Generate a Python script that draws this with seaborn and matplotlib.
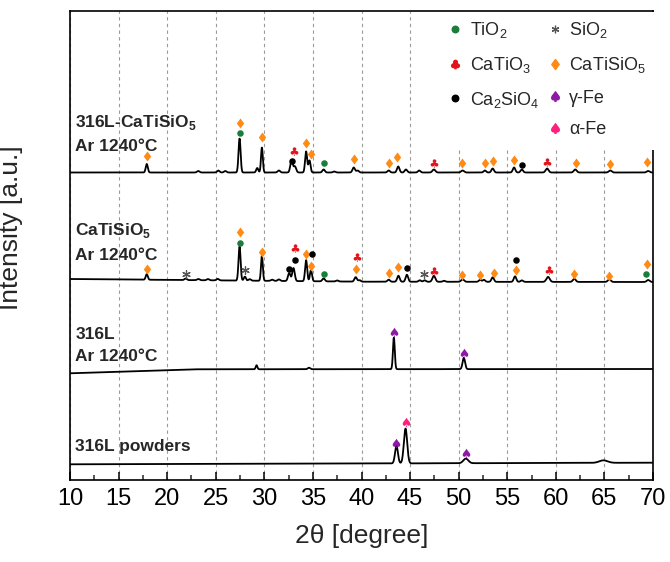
import numpy as np
import pandas as pd
import matplotlib
matplotlib.use("Agg")
import matplotlib.pyplot as plt
import seaborn as sns
from matplotlib.lines import Line2D
from matplotlib.path import Path
from matplotlib.textpath import TextPath
from matplotlib.font_manager import FontProperties
from matplotlib.ticker import MultipleLocator

# ---- data (intensity in arbitrary, offset units) ----
trace_names = ["316L-CaTiSiO5 Ar 1240", "CaTiSiO5 Ar 1240", "316L Ar 1240", "316L powders"]

# baseline anchors (2theta, level) for each pattern
base_x = {
    "316L-CaTiSiO5 Ar 1240": [10, 70],
    "CaTiSiO5 Ar 1240": [10, 40, 70],
    "316L Ar 1240": [10, 22.7, 70],
    "316L powders": [10, 70],
}
base_y = {
    "316L-CaTiSiO5 Ar 1240": [307.5, 307.5],
    "CaTiSiO5 Ar 1240": [201.0, 198.3, 198.0],
    "316L Ar 1240": [106.7, 110.7, 111.0],
    "316L powders": [15.7, 17.3],
}

# peaks: (2theta, height, fwhm)
peaks = {
    "316L-CaTiSiO5 Ar 1240": [
        (17.9, 8.5, 0.25), (23.2, 1.5, 0.3), (25.26, 2, 0.3), (25.98, 1.5, 0.3),
        (27.45, 34, 0.25), (29.27, 4.5, 0.25), (29.75, 25, 0.22), (31.5, 2, 0.3),
        (32.8, 12, 0.3), (33.15, 6, 0.3), (34.3, 21, 0.25), (34.65, 12, 0.25),
        (36.1, 3, 0.3), (37.2, 1, 0.3), (39.2, 5, 0.3), (39.6, 2, 0.3),
        (42.8, 2, 0.3), (43.78, 6, 0.3), (44.57, 3, 0.3), (45.94, 2, 0.3),
        (47.45, 3, 0.35), (50.4, 2, 0.35), (52.7, 2, 0.3), (53.5, 4, 0.3),
        (55.7, 5, 0.3), (56.5, 3, 0.3), (59.1, 4, 0.35), (62.0, 3, 0.35),
        (65.6, 2, 0.35), (69.5, 1.5, 0.35),
    ],
    "CaTiSiO5 Ar 1240": [
        (17.9, 5.5, 0.25), (21.9, 1.5, 0.3), (23.2, 1.2, 0.3), (24.2, 1.2, 0.3),
        (25.2, 1.5, 0.3), (27.45, 34, 0.25), (28.0, 4, 0.25), (28.5, 1.5, 0.3),
        (29.75, 25, 0.22), (30.8, 1.2, 0.3), (31.5, 1.5, 0.3), (32.56, 8, 0.3),
        (33.0, 13, 0.3), (34.3, 21, 0.25), (34.8, 11, 0.25), (36.1, 3, 0.3),
        (37.5, 1, 0.3), (39.4, 4.5, 0.3), (39.8, 1.5, 0.3), (42.8, 2, 0.3),
        (43.8, 6, 0.3), (44.67, 7, 0.3), (46.0, 1.5, 0.3), (46.5, 1.5, 0.3),
        (47.45, 6, 0.35), (48.5, 1, 0.3), (50.4, 2.5, 0.35), (52.2, 2, 0.3),
        (52.6, 2, 0.3), (53.5, 4.5, 0.3), (55.8, 5.5, 0.3), (56.5, 1.5, 0.3),
        (59.2, 5, 0.4), (61.9, 3, 0.35), (65.5, 2.5, 0.35), (69.5, 2, 0.35),
    ],
    "316L Ar 1240": [
        (29.2, 4, 0.2), (34.6, 1.5, 0.3), (43.33, 31.7, 0.22), (50.53, 11.3, 0.3),
    ],
    "316L powders": [
        (43.6, 17.5, 0.35), (44.53, 34.8, 0.4), (50.74, 4.6, 0.6), (64.9, 2.5, 1.0),
    ],
}

# phase markers
tio2_x = [27.5, 36.1, 27.5, 36.1, 69.3]
tio2_y = [347, 317, 237, 206, 206]
sio2_x = [21.93, 28.0, 46.45]
sio2_y = [206, 210, 206]
catio3_x = [33.05, 47.45, 59.1, 33.15, 39.5, 47.45, 59.3]
catio3_y = [329, 317, 318, 232, 223, 209, 210]
catisio5_x = [17.9, 27.5, 29.75, 34.3, 34.76, 39.2, 42.8, 43.7, 50.36, 52.7, 53.5, 55.7, 62.1, 65.55, 69.4,
              17.9, 27.5, 29.75, 34.28, 34.76, 39.4, 42.8, 43.8, 50.36, 52.2, 53.6, 55.85, 61.85, 65.5, 69.4]
catisio5_y = [324, 357, 343, 337, 326, 321, 317, 323, 317, 317, 319, 320, 317, 316, 318,
              211, 248, 228, 226, 214, 211, 207, 213, 205, 205, 207, 210, 206, 204, 216]
ca2sio4_x = [32.8, 56.5, 32.56, 33.15, 34.86, 44.67, 55.85]
ca2sio4_y = [319, 315, 211, 220, 226, 212, 220]
gfe_x = [43.33, 50.53, 43.6, 50.74]
gfe_y = [148.3, 127.3, 37.3, 27.3]
afe_x = [44.53]
afe_y = [58]

sample_labels = ["316L-CaTiSiO$_\\mathbf{5}$\nAr 1240°C", "CaTiSiO$_\\mathbf{5}$\nAr 1240°C",
                 "316L\nAr 1240°C", "316L powders"]
label_y = [346.5, 238, 134.5, 33]


def glyph_marker(ch):
    tp = TextPath((0, 0), ch, size=1, prop=FontProperties(family="DejaVu Sans"))
    ext = tp.get_extents()
    verts = tp.vertices - [(ext.x0 + ext.x1) / 2, (ext.y0 + ext.y1) / 2]
    return Path(verts, tp.codes)


club = glyph_marker("\u2663")
spade = glyph_marker("\u2660")
diamond = Path([(0, 0.5), (0.37, 0), (0, -0.5), (-0.37, 0), (0, 0.5)],
               [Path.MOVETO, Path.LINETO, Path.LINETO, Path.LINETO, Path.CLOSEPOLY])
asterisk = (6, 2, 0)

green, red, orange, black = "#1b7d3a", "#e3141c", "#ff8a14", "#000000"
purple, pink, grey = "#8c1aa6", "#ff1f7d", "#555555"

# ---- build the patterns ----
grid = np.linspace(10, 70, 3001)
rows = []
for name in trace_names:
    y = np.interp(grid, base_x[name], base_y[name])
    for c, h, w in peaks[name]:
        s = w / 2.3548
        y = y + h * np.exp(-0.5 * ((grid - c) / s) ** 2)
    rows.append(pd.DataFrame({"two_theta": grid, "intensity": y, "trace": name}))
df = pd.concat(rows, ignore_index=True)

# ---- plot ----
sns.set_theme(style="white")
plt.rcParams["font.family"] = ["Liberation Sans", "DejaVu Sans"]
plt.rcParams["mathtext.fontset"] = "custom"
plt.rcParams["mathtext.rm"] = "Liberation Sans"
plt.rcParams["mathtext.bf"] = "Liberation Sans:bold"

fig = plt.figure(figsize=(6.7, 5.62), dpi=100)
ax = fig.add_axes([70 / 670, 82 / 562, 583 / 670, 469 / 562])

sns.lineplot(data=df, x="two_theta", y="intensity", units="trace", estimator=None,
             color="black", linewidth=1.3, ax=ax, legend=False, zorder=3)

phases = [
    (tio2_x, tio2_y, "o", green, 22),
    (sio2_x, sio2_y, asterisk, grey, 30),
    (catio3_x, catio3_y, club, red, 55),
    (catisio5_x, catisio5_y, diamond, orange, 52),
    (ca2sio4_x, ca2sio4_y, "o", black, 22),
    (gfe_x, gfe_y, spade, purple, 70),
    (afe_x, afe_y, spade, pink, 70),
]
for px, py, mk, col, sz in phases:
    if mk == asterisk:
        ax.scatter(px, py, marker=mk, s=sz, color=col, linewidths=0.9, zorder=4)
    else:
        sns.scatterplot(x=px, y=py, marker=mk, s=sz, color=col, linewidth=0, ax=ax, zorder=4)

for txt, ty in zip(sample_labels, label_y):
    ax.text(10.55, ty, txt, fontsize=12.5, fontweight="bold", va="center", ha="left",
            linespacing=1.62, zorder=5)

ax.set_xlim(10, 70)
ax.set_ylim(0, 469)
ax.set_xticks(range(10, 71, 5))
ax.xaxis.set_minor_locator(MultipleLocator(2.5))
ax.set_yticks([])
ax.grid(axis="x", which="major", linestyle=(0, (3, 3)), color="#9a9a9a", linewidth=0.8)
ax.tick_params(axis="x", which="major", direction="in", length=6, width=1.1, labelsize=17,
               pad=6, bottom=True, colors="black")
ax.tick_params(axis="x", which="minor", direction="in", length=3.5, width=1.1, bottom=True)
for sp in ax.spines.values():
    sp.set_visible(True)
    sp.set_color("black")
    sp.set_linewidth(1.2)

ax.set_xlabel("2θ [degree]", fontsize=19)
ax.set_ylabel("Intensity [a.u.]", fontsize=19)
ax.xaxis.set_label_coords(0.5, -0.094)
ax.yaxis.set_label_coords(-0.081, 0.537)

handles = [
    Line2D([], [], ls="none", marker="o", color=green, markersize=np.sqrt(22)),
    Line2D([], [], ls="none", marker=club, color=red, markersize=np.sqrt(55)),
    Line2D([], [], ls="none", marker="o", color=black, markersize=np.sqrt(22)),
    Line2D([], [], ls="none", marker=""),
    Line2D([], [], ls="none", marker=asterisk, color=grey, markersize=np.sqrt(30), markeredgewidth=0.9),
    Line2D([], [], ls="none", marker=diamond, color=orange, markersize=np.sqrt(52)),
    Line2D([], [], ls="none", marker=spade, color=purple, markersize=np.sqrt(70)),
    Line2D([], [], ls="none", marker=spade, color=pink, markersize=np.sqrt(70)),
]
labels = ["TiO$_2$", "CaTiO$_3$", "Ca$_2$SiO$_4$", "", "SiO$_2$", "CaTiSiO$_5$", "γ-Fe", "α-Fe"]
leg = ax.legend(handles, labels, ncol=2, loc="upper left", bbox_to_anchor=(0.63, 1.0),
                fontsize=13, frameon=True, framealpha=1, facecolor="white", edgecolor="none",
                fancybox=False, borderaxespad=0.05, borderpad=0.45, handlelength=1.0,
                handletextpad=0.3, columnspacing=0.35, labelspacing=0.82)

fig.savefig("out.png", dpi=100)
